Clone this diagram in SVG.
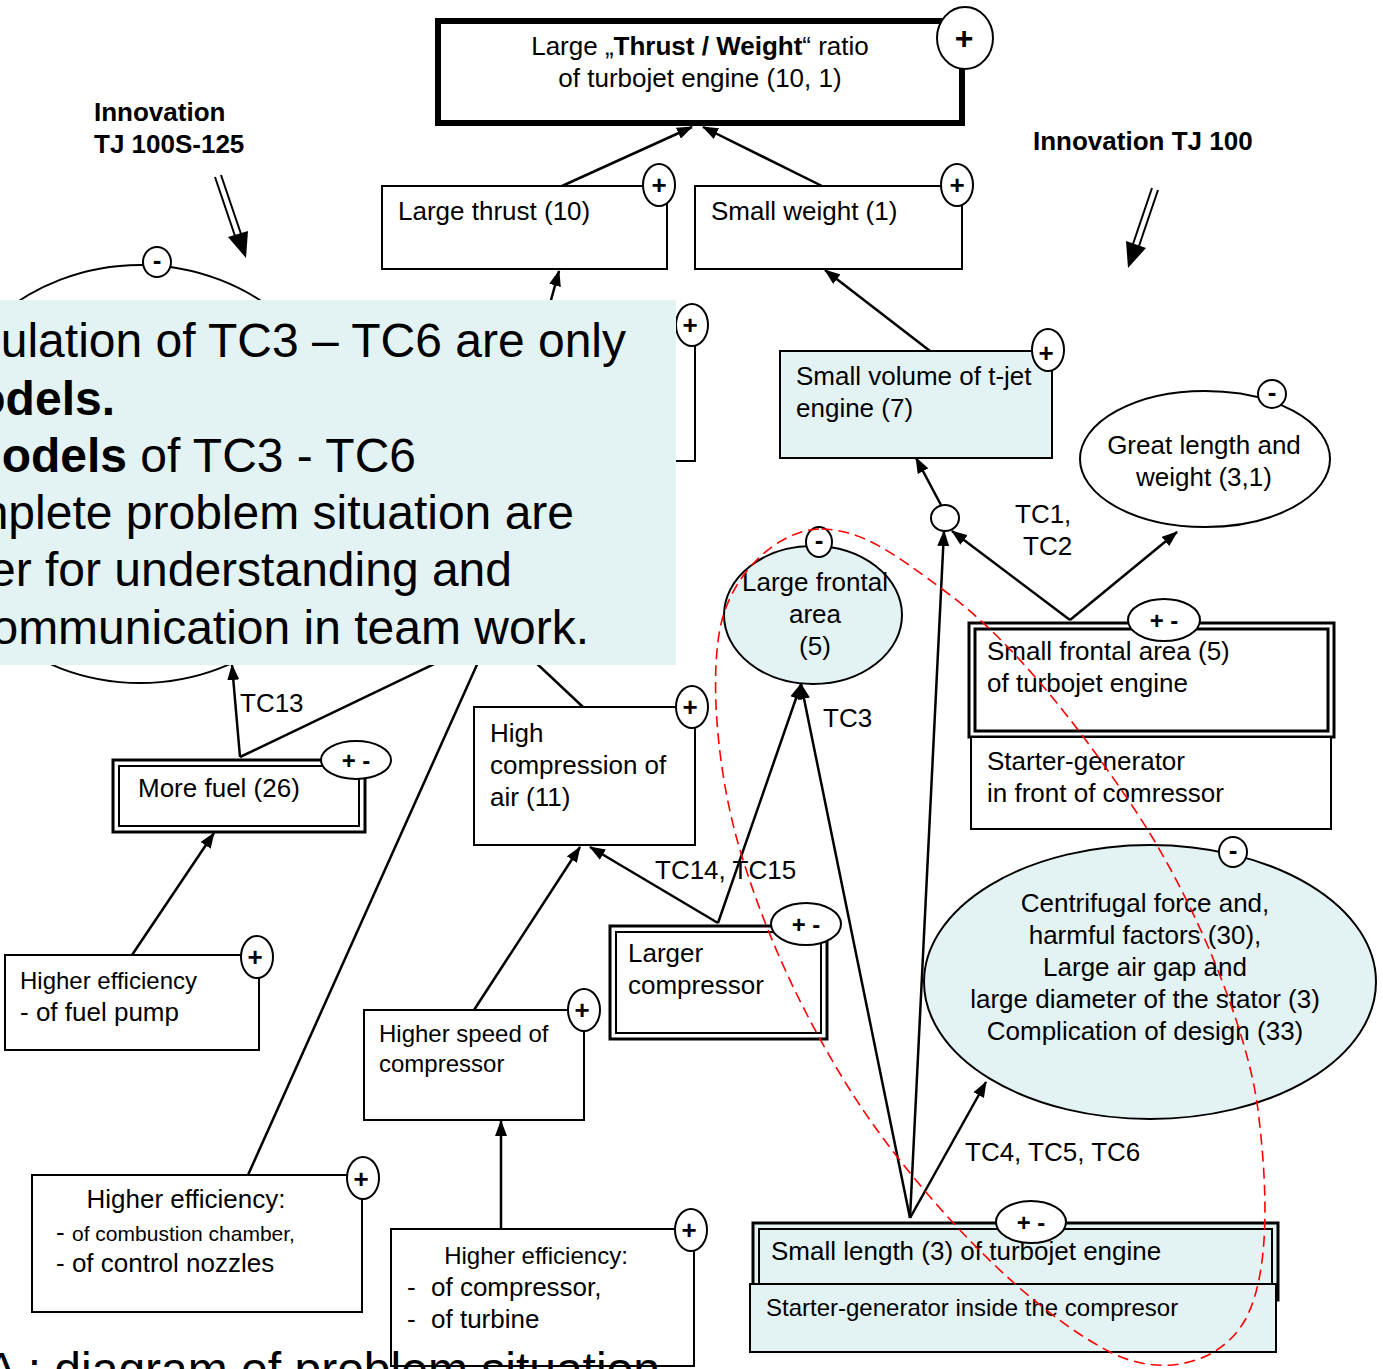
<svg xmlns="http://www.w3.org/2000/svg" width="1383" height="1369" viewBox="0 0 1383 1369">
<defs>
  <marker id="ah" markerUnits="userSpaceOnUse" markerWidth="16" markerHeight="12" refX="15" refY="6" orient="auto">
    <path d="M0,0 L16,6 L0,12 z" fill="#000"/>
  </marker>
  <style>
    text { font-family: "Liberation Sans", Arial, sans-serif; fill: #000; }
    .t { font-size: 26px; }
    .s24 { font-size: 24px; }
    .mid { text-anchor: middle; }
    .box { fill: #fff; stroke: #000; stroke-width: 2; }
    .cyan { fill: #E3F2F3; }
    .dbl { fill: none; stroke: #000; stroke-width: 3; }
    .sg { fill: #fff; stroke: #000; stroke-width: 2; }
    .sgt { font-size: 26px; font-weight: bold; text-anchor: middle; }
    .pm { font-size: 24px; font-weight: bold; text-anchor: middle; }
    .c { stroke: #000; stroke-width: 2.5; fill: none; }
    .a { marker-end: url(#ah); }
    .inn { font-size: 26px; font-weight: bold; }
  </style>
</defs>
<rect width="1383" height="1369" fill="#fff"/>

<!-- connectors -->
<g id="connectors">
  <line class="c a" x1="562" y1="186" x2="692" y2="127"/>
  <line class="c a" x1="822" y1="186" x2="703" y2="127"/>
  <line class="c a" x1="540" y1="340" x2="559" y2="271"/>
  <line class="c a" x1="930" y1="351" x2="825" y2="270"/>
  <line class="c a" x1="941" y1="505" x2="916" y2="458"/>
  <line class="c a" x1="1070" y1="620" x2="952" y2="531"/>
  <line class="c a" x1="1070" y1="620" x2="1177" y2="532"/>
  <line class="c a" x1="910" y1="1218" x2="944" y2="531"/>
  <line class="c a" x1="910" y1="1218" x2="801" y2="684"/>
  <line class="c a" x1="718" y1="923" x2="801" y2="684"/>
  <line class="c a" x1="910" y1="1218" x2="986" y2="1082"/>
  <line class="c a" x1="718" y1="923" x2="590" y2="847"/>
  <line class="c a" x1="474" y1="1010" x2="580" y2="847"/>
  <line class="c a" x1="501" y1="1229" x2="501" y2="1121"/>
  <line class="c a" x1="132" y1="955" x2="214" y2="833"/>
  <line class="c a" x1="240" y1="757" x2="232" y2="665"/>
  <line class="c" x1="240" y1="757" x2="526" y2="620"/>
  <line class="c" x1="248" y1="1175" x2="506" y2="600"/>
  <line class="c" x1="583" y1="707" x2="501" y2="630"/>
  <!-- double-line innovation arrows -->
  <g stroke="#000" stroke-width="2">
    <line x1="215" y1="177" x2="235" y2="236"/>
    <line x1="221" y1="175" x2="241" y2="234"/>
    <line x1="1152" y1="188" x2="1133" y2="244"/>
    <line x1="1158" y1="190" x2="1139" y2="246"/>
  </g>
  <polygon points="246,258 248,231 228,237" fill="#000"/>
  <polygon points="1128,268 1146,248 1126,241" fill="#000"/>
  <text class="t" x="240" y="712">TC13</text>
  <text class="t" x="655" y="879">TC14, TC15</text>
  <text class="t" x="823" y="727">TC3</text>
  <text class="t" x="1015" y="523">TC1,</text>
  <text class="t" x="1023" y="555">TC2</text>
  <text class="t" x="965" y="1161">TC4, TC5, TC6</text>
</g>

<!-- headings -->
<g id="innovation-left">
  <text class="inn" x="94" y="121">Innovation</text>
  <text class="inn" x="94" y="153">TJ 100S-125</text>
</g>
<g id="innovation-right">
  <text class="inn" x="1033" y="150">Innovation TJ 100</text>
</g>

<!-- nodes -->
<g id="n-ratio">
  <rect x="438" y="21" width="524" height="102" fill="#fff" stroke="#000" stroke-width="6"/>
  <text class="t mid" x="700" y="55">Large „<tspan font-weight="bold">Thrust / Weight</tspan>“ ratio</text>
  <text class="t mid" x="700" y="87">of turbojet engine (10, 1)</text>
  <ellipse class="sg" cx="965" cy="38" rx="28" ry="31"/>
  <text class="sgt" x="964" y="49" style="font-size:32px">+</text>
</g>

<g id="n-thrust">
  <rect class="box" x="382" y="186" width="285" height="83"/>
  <text class="t" x="398" y="220">Large thrust (10)</text>
  <ellipse class="sg" cx="659" cy="185" rx="16" ry="21"/>
  <text class="sgt" x="659" y="194">+</text>
</g>

<g id="n-weight">
  <rect class="box" x="695" y="186" width="267" height="83"/>
  <text class="t" x="711" y="220">Small weight (1)</text>
  <ellipse class="sg" cx="957" cy="185" rx="16" ry="21"/>
  <text class="sgt" x="957" y="194">+</text>
</g>

<g id="n-hidden">
  <rect class="box" x="480" y="326" width="215" height="135"/>
  <ellipse class="sg" cx="692" cy="325" rx="16" ry="21"/>
  <text class="sgt" x="690" y="334">+</text>
</g>

<g id="n-left-ellipse">
  <ellipse cx="140" cy="474" rx="216" ry="209" fill="#fff" stroke="#000" stroke-width="2"/>
  <ellipse class="sg" cx="157" cy="262" rx="14" ry="15"/>
  <text class="sgt" x="157" y="269">-</text>
</g>

<g id="n-volume">
  <rect class="cyan" x="780" y="351" width="272" height="107" stroke="#000" stroke-width="2"/>
  <text class="t" x="796" y="385">Small volume of t-jet</text>
  <text class="t" x="796" y="417">engine (7)</text>
  <ellipse class="sg" cx="1048" cy="350" rx="16" ry="21"/>
  <text class="sgt" x="1046" y="362">+</text>
</g>

<g id="n-junction">
  <ellipse cx="945" cy="518" rx="14" ry="13" fill="#fff" stroke="#000" stroke-width="2"/>
</g>

<g id="n-great-length">
  <ellipse cx="1205" cy="459" rx="125" ry="68" fill="#fff" stroke="#000" stroke-width="2"/>
  <text class="t mid" x="1204" y="454">Great length and</text>
  <text class="t mid" x="1204" y="486">weight (3,1)</text>
  <ellipse class="sg" cx="1272" cy="394" rx="14" ry="14"/>
  <text class="sgt" x="1272" y="401">-</text>
</g>

<g id="n-frontal-large">
  <ellipse class="cyan" cx="813" cy="615" rx="89" ry="69" stroke="#000" stroke-width="2"/>
  <text class="t mid" x="815" y="591">Large frontal</text>
  <text class="t mid" x="815" y="623">area</text>
  <text class="t mid" x="815" y="655">(5)</text>
  <ellipse class="sg" cx="819" cy="542" rx="13" ry="15"/>
  <text class="sgt" x="819" y="549">-</text>
</g>

<g id="n-frontal-small">
  <rect x="969" y="623" width="365" height="114" fill="#fff" stroke="#000" stroke-width="3"/>
  <rect class="dbl" x="975" y="629" width="353" height="102"/>
  <text class="t" x="987" y="660">Small frontal area (5)</text>
  <text class="t" x="987" y="692">of turbojet engine</text>
  <rect class="box" x="971" y="737" width="360" height="92"/>
  <text class="t" x="987" y="770">Starter-generator</text>
  <text class="t" x="987" y="802">in front of comressor</text>
  <ellipse class="sg" cx="1164" cy="620" rx="36" ry="21"/>
  <text class="pm" x="1164" y="629">+ -</text>
</g>

<g id="n-more-fuel">
  <rect x="113" y="760" width="252" height="72" fill="#fff" stroke="#000" stroke-width="3"/>
  <rect x="119" y="766" width="240" height="60" fill="none" stroke="#000" stroke-width="2"/>
  <text class="t" x="138" y="797">More fuel (26)</text>
  <ellipse class="sg" cx="356" cy="760" rx="35" ry="19"/>
  <text class="pm" x="356" y="769">+ -</text>
</g>

<g id="n-fuel-pump">
  <rect class="box" x="5" y="955" width="254" height="95"/>
  <text class="s24" x="20" y="989">Higher efficiency</text>
  <text class="t" x="20" y="1021">- of fuel pump</text>
  <ellipse class="sg" cx="257" cy="957" rx="16" ry="21"/>
  <text class="sgt" x="255" y="966">+</text>
</g>

<g id="n-compression">
  <rect class="box" x="474" y="707" width="221" height="138"/>
  <text class="t" x="490" y="742">High</text>
  <text class="t" x="490" y="774">compression of</text>
  <text class="t" x="490" y="806">air (11)</text>
  <ellipse class="sg" cx="692" cy="707" rx="16" ry="21"/>
  <text class="sgt" x="690" y="716">+</text>
</g>

<g id="n-larger-compressor">
  <rect x="610" y="926" width="217" height="113" fill="#fff" stroke="#000" stroke-width="3"/>
  <rect x="616" y="932" width="205" height="101" fill="none" stroke="#000" stroke-width="2"/>
  <text class="t" x="628" y="962">Larger</text>
  <text class="t" x="628" y="994">compressor</text>
  <ellipse class="sg" cx="806" cy="924" rx="35" ry="21"/>
  <text class="pm" x="806" y="933">+ -</text>
</g>

<g id="n-centrifugal">
  <ellipse class="cyan" cx="1150" cy="982" rx="226" ry="137" stroke="#000" stroke-width="2"/>
  <text class="t mid" x="1145" y="912">Centrifugal force and,</text>
  <text class="t mid" x="1145" y="944">harmful factors (30),</text>
  <text class="t mid" x="1145" y="976">Large air gap and</text>
  <text class="t mid" x="1145" y="1008">large diameter of the stator (3)</text>
  <text class="t mid" x="1145" y="1040">Complication of design (33)</text>
  <ellipse class="sg" cx="1233" cy="852" rx="14" ry="15"/>
  <text class="sgt" x="1233" y="859">-</text>
</g>

<g id="n-speed">
  <rect class="box" x="364" y="1010" width="220" height="110"/>
  <text class="s24" x="379" y="1042">Higher speed of</text>
  <text class="s24" x="379" y="1072">compressor</text>
  <ellipse class="sg" cx="584" cy="1010" rx="16" ry="21"/>
  <text class="sgt" x="582" y="1019">+</text>
</g>

<g id="n-combustion">
  <rect class="box" x="32" y="1175" width="330" height="137"/>
  <text class="t mid" x="186" y="1208">Higher efficiency:</text>
  <text x="56" y="1241" class="t">-<tspan style="font-size:21px" x="72">of combustion chamber,</tspan></text>
  <text class="t" x="56" y="1272">- of control nozzles</text>
  <ellipse class="sg" cx="363" cy="1178" rx="16" ry="21"/>
  <text class="sgt" x="361" y="1188">+</text>
</g>

<g id="n-efficiency-comp">
  <rect class="box" x="391" y="1229" width="303" height="137"/>
  <text class="s24 mid" x="536" y="1264">Higher efficiency:</text>
  <text class="t" x="407" y="1296">-<tspan x="431">of compressor,</tspan></text>
  <text class="t" x="407" y="1328">-<tspan x="431">of turbine</tspan></text>
  <ellipse class="sg" cx="691" cy="1230" rx="16" ry="21"/>
  <text class="sgt" x="689" y="1239">+</text>
</g>

<g id="n-small-length">
  <rect class="cyan" x="753" y="1223" width="525" height="77" stroke="#000" stroke-width="3"/>
  <rect x="759" y="1229" width="513" height="65" fill="none" stroke="#000" stroke-width="2"/>
  <text class="t" x="771" y="1260">Small length (3) of turbojet engine</text>
  <rect class="cyan" x="750" y="1284" width="526" height="68" stroke="#000" stroke-width="2"/>
  <text class="s24" x="766" y="1316">Starter-generator inside the compresor</text>
  <ellipse class="sg" cx="1031" cy="1222" rx="35" ry="21"/>
  <text class="pm" x="1031" y="1231">+ -</text>
</g>

<!-- caption along the bottom edge -->
<text x="660" y="1386" text-anchor="end" style="font-size:48px">A : diagram of problem situation</text>

<!-- note panel -->
<g id="note">
  <rect class="cyan" x="0" y="300" width="676" height="365"/>
  <g style="font-size:48px" text-anchor="end">
    <text x="626" y="357">ulation of TC3 – TC6 are only</text>
    <text x="115" y="415" font-weight="bold">odels.</text>
    <text x="416" y="472"><tspan font-weight="bold">odels</tspan> of TC3 - TC6</text>
    <text x="574" y="529">nplete problem situation are</text>
    <text x="512" y="586">er for understanding and</text>
    <text x="589" y="644">ommunication in team work.</text>
  </g>
</g>

<!-- dashed outline around the TC3 - TC6 cluster -->
<path id="cluster" d="M819,529 C780,530 735,570 722,620 C709,670 716,770 740,850 C764,930 800,1010 850,1090 C900,1170 1010,1300 1110,1352 C1160,1378 1220,1365 1245,1320 C1270,1275 1268,1190 1258,1110 C1248,1030 1195,900 1135,810 C1075,720 1010,640 950,595 C890,550 860,529 819,529 Z" fill="none" stroke="#FF0000" stroke-width="1.6" stroke-dasharray="11 6"/>
</svg>
